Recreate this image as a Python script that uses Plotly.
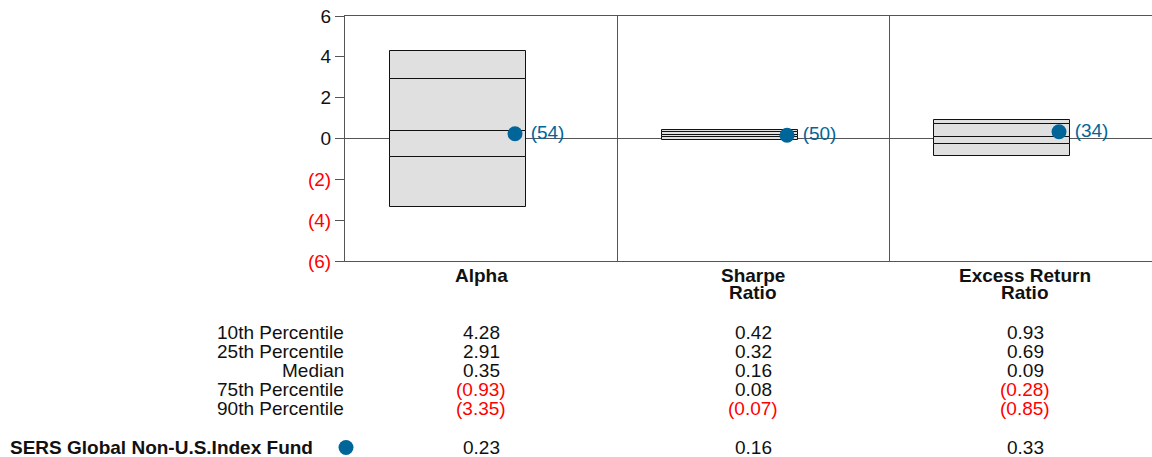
import plotly.graph_objects as go

# ---- data -------------------------------------------------------------
metrics = ["Alpha", "Sharpe<br>Ratio", "Excess Return<br>Ratio"]
row_labels = ["10th Percentile", "25th Percentile", "Median", "75th Percentile", "90th Percentile"]
p10 = [4.28, 0.42, 0.93]
p25 = [2.91, 0.32, 0.69]
median = [0.35, 0.16, 0.09]
p75 = [-0.93, 0.08, -0.28]
p90 = [-3.35, -0.07, -0.85]
fund_name = "SERS Global Non-U.S.Index Fund"
fund_values = [0.23, 0.16, 0.33]
fund_ranks = [54, 50, 34]
y_ticks = [6, 4, 2, 0, -2, -4, -6]

# ---- style -------------------------------------------------------------
FONT = "Liberation Sans, Arial, sans-serif"
FS = 19
BOX_FILL = "#e0e0e0"
DOT = "#006699"
RED = "#ff0000"
INK = "#111111"
LINE = "#555555"
W, H = 1152, 457
M_L, M_R, M_T, M_B = 345, 0, 16, 196
PLOT_W = W - M_L - M_R
PLOT_H = H - M_T - M_B
COL_PX = 272  # pixel width of one category column


def fmt(v):
    return f"({abs(v):.2f})" if v < 0 else f"{v:.2f}"


def paper_y(py):
    return (H - M_B - py) / PLOT_H


def paper_x(px):
    return (px - M_L) / PLOT_W


def note(text, x, y, xref="paper", anchor="center", color=INK):
    fig.add_annotation(text=text, xref=xref, yref="paper", x=x, y=y,
                       xanchor=anchor, yanchor="middle", showarrow=False,
                       font=dict(size=FS, color=color, family=FONT))


xs = list(range(len(metrics)))
fig = go.Figure()

# stacked segments of each box (90th->75th->median->25th->10th)
levels = [p90, p75, median, p25, p10]
for lo, hi in zip(levels[:-1], levels[1:]):
    fig.add_trace(go.Bar(
        x=xs, y=[h - l for l, h in zip(lo, hi)], base=lo,
        width=0.5, offset=-0.335,
        marker=dict(color=BOX_FILL, line=dict(color=INK, width=1)),
        showlegend=False, hoverinfo="skip",
    ))

# fund dots with percentile ranks
fig.add_trace(go.Scatter(
    x=[x + 0.125 for x in xs], y=fund_values,
    mode="markers+text",
    marker=dict(color=DOT, size=15),
    text=[f"\u00a0({r})" for r in fund_ranks],
    textposition="middle right",
    textfont=dict(color=DOT, size=FS, family=FONT),
    cliponaxis=False, showlegend=False, name=fund_name,
))

# category labels (tight two-line layout)
for i, m in enumerate(metrics):
    for j, part in enumerate(m.split("<br>")):
        note(f"<b>{part}</b>", xs[i], paper_y(275 + 17 * j), xref="x")

# table below the chart
row_py = [332, 351, 370, 389, 408]
for label, py in zip(row_labels, row_py):
    note(label, paper_x(346), paper_y(py), anchor="right")
for i, vals in enumerate(zip(p10, p25, median, p75, p90)):
    for v, py in zip(vals, row_py):
        note(fmt(v), xs[i], paper_y(py), xref="x", color=RED if v < 0 else INK)
    note(fmt(fund_values[i]), xs[i], paper_y(447.5), xref="x")

note(f"<b>{fund_name}</b>", paper_x(315), paper_y(447.5), anchor="right")
fig.add_shape(type="circle", xref="paper", yref="paper", xsizemode="pixel", ysizemode="pixel",
              xanchor=paper_x(346), yanchor=paper_y(447.5), x0=-7.5, x1=7.5, y0=-7.5, y1=7.5,
              fillcolor=DOT, line=dict(width=0))

fig.update_layout(
    width=W, height=H,
    margin=dict(l=M_L, r=M_R, t=M_T, b=M_B, pad=0),
    plot_bgcolor="white", paper_bgcolor="white",
    barmode="overlay", bargap=0,
    font=dict(family=FONT, size=FS, color=INK),
    xaxis=dict(
        range=[-0.5, -0.5 + PLOT_W / COL_PX],
        tickvals=xs, showticklabels=False,
        showgrid=False, zeroline=False, ticks="",
        showline=True, linecolor=LINE, linewidth=1, mirror=True,
        minor=dict(tickvals=[x + 0.5 for x in xs], showgrid=True, gridcolor=LINE, gridwidth=1),
        fixedrange=True,
    ),
    yaxis=dict(
        range=[-6, 6],
        tickvals=y_ticks,
        ticktext=[str(t) if t >= 0 else f'<span style="color:{RED}">({abs(t)})</span>' for t in y_ticks],
        tickfont=dict(size=FS, color=INK, family=FONT),
        ticks="outside", ticklen=9, tickcolor=LINE,
        showgrid=False, zeroline=True, zerolinecolor=LINE, zerolinewidth=1,
        showline=True, linecolor=LINE, linewidth=1,
        fixedrange=True,
    ),
)

# drop the browser's default body margin so the figure fills the window
fig.write_html("out.html", config={"displayModeBar": False},
               post_script="document.body.style.margin = '0';")
